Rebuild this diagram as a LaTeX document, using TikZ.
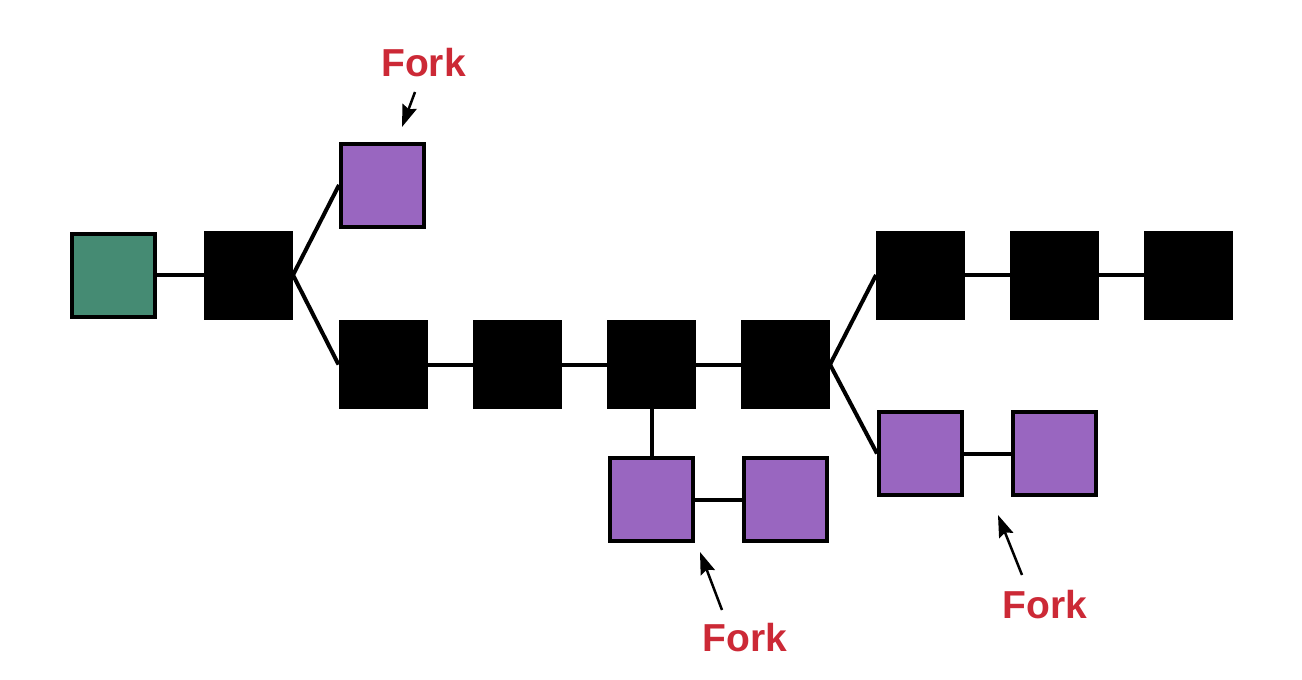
\documentclass[tikz,border=0pt]{standalone}
\usepackage{fontspec}
\setmainfont{Liberation Sans}
\usetikzlibrary{arrows.meta}
\definecolor{gblock}{RGB}{69,139,115}
\definecolor{pblock}{RGB}{153,102,192}
\definecolor{forkred}{RGB}{204,41,54}
\begin{document}
\begin{tikzpicture}[x=1pt,y=-1pt,
  blk/.style={draw=black,line width=4pt,minimum size=83pt,inner sep=0pt,fill=#1},
  mainblk/.style={draw=black,fill=black,line width=2pt,minimum size=87pt,inner sep=0pt},
  link/.style={line width=4pt,black},
  forklbl/.style={text=forkred,font=\bfseries\fontsize{39}{41}\selectfont,inner sep=0pt},
  forkarrow/.style={line width=2.5pt,-{Stealth[length=22pt,width=15pt,inset=3pt]}}]
\useasboundingbox (0,0) rectangle (1302,680);
\fill[white] (0,0) rectangle (1302,680);
% blocks
\node[blk=gblock] (g) at (113.5,275) {};
\node[mainblk] (b1) at (248.5,275) {};
\node[blk=pblock] (p1) at (382.5,185) {};
\node[mainblk] (c1) at (383,364.5) {};
\node[mainblk] (c2) at (517.5,364.5) {};
\node[mainblk] (c3) at (651.5,364.5) {};
\node[mainblk] (c4) at (785.5,364.5) {};
\node[mainblk] (t1) at (920.5,275) {};
\node[mainblk] (t2) at (1054.5,275) {};
\node[mainblk] (t3) at (1188.5,275) {};
\node[blk=pblock] (q1) at (651.5,499.5) {};
\node[blk=pblock] (q2) at (785.5,499.5) {};
\node[blk=pblock] (r1) at (920.5,453.5) {};
\node[blk=pblock] (r2) at (1054.5,453.5) {};
% links
\draw[link] (g.east) -- (b1.west);
\draw[link] (b1.east) -- (p1.west);
\draw[link] (b1.east) -- (c1.west);
\draw[link] (c1.east) -- (c2.west);
\draw[link] (c2.east) -- (c3.west);
\draw[link] (c3.east) -- (c4.west);
\draw[link] (c4.east) -- (t1.west);
\draw[link] (t1.east) -- (t2.west);
\draw[link] (t2.east) -- (t3.west);
\draw[link] (c4.east) -- (r1.west);
\draw[link] (r1.east) -- (r2.west);
\draw[link] (c3.south) -- (q1.north);
\draw[link] (q1.east) -- (q2.west);
% fork labels
\node[forklbl] (f1) at (423.5,63) {Fork};
\node[forklbl] (f2) at (745,638) {Fork};
\node[forklbl] (f3) at (1045,605) {Fork};
\coordinate (a1s) at (415,92);
\coordinate (a1e) at (402,127);
\coordinate (a2s) at (722,610);
\coordinate (a2e) at (700,552);
\coordinate (a3s) at (1022,575);
\coordinate (a3e) at (998,515);
\draw[forkarrow] (a1s) -- (a1e);
\draw[forkarrow] (a2s) -- (a2e);
\draw[forkarrow] (a3s) -- (a3e);
\end{tikzpicture}
\end{document}
